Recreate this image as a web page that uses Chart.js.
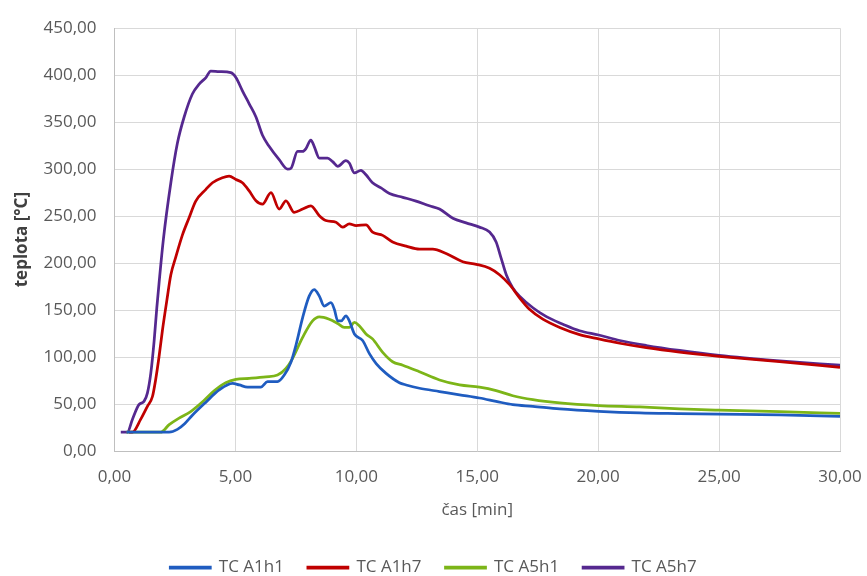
<!DOCTYPE html>
<html>
<head>
<meta charset="utf-8">
<script src="https://cdn.jsdelivr.net/npm/chart.js@4"></script>
<style>
  body { margin: 0; background: #fff; }
  canvas { display: block; }
</style>
</head>
<body>
<canvas id="chartTemp" width="867" height="576"></canvas>
<script>
// --- DATA ---
const seriesNames = ['TC A1h1', 'TC A1h7', 'TC A5h1', 'TC A5h7'];
const seriesColors = ['#1f5cc0', '#c00000', '#7cb518', '#55288f'];

// TC A1h1
const timeA1h1 = [0.5, 2.26, 2.6, 2.9, 3.22, 3.78, 4.33, 4.88, 5.16, 5.5, 6.05, 6.33, 6.74, 7.02, 7.3, 7.5, 7.78, 8.05, 8.26, 8.47, 8.67, 8.95, 9.09, 9.23, 9.37, 9.57, 9.71, 9.92, 10.26, 10.54, 10.82, 11.23, 11.78, 12.06, 12.61, 13.44, 14.27, 15.09, 15.78, 16.47, 17.3, 18.41, 20.02, 21.72, 23.37, 25, 27.5, 30];
const tempA1h1 = [20, 20, 23, 29, 38, 52, 65, 72, 70.3, 68, 68, 73.8, 73.8, 80.8, 94.8, 112.3, 142, 164.8, 171.8, 164.8, 154.3, 157.8, 150.8, 138.5, 138.5, 143.8, 138.5, 124.6, 117.6, 103.6, 93.1, 82.6, 72.7, 70.3, 66.8, 63.3, 59.8, 56.4, 52.8, 49.3, 47.5, 44.8, 42.3, 40.6, 39.9, 39.3, 38.5, 36.8];

// TC A1h7
const timeA1h7 = [0.6, 0.74, 1.08, 1.36, 1.57, 1.7, 1.84, 1.98, 2.16, 2.33, 2.53, 2.81, 3.08, 3.36, 3.78, 4.05, 4.46, 4.74, 5.02, 5.29, 5.57, 5.85, 6.12, 6.47, 6.81, 7.09, 7.43, 7.78, 8.12, 8.47, 8.74, 9.16, 9.43, 9.71, 9.99, 10.4, 10.67, 11.09, 11.5, 12.06, 12.61, 13.16, 13.71, 14.4, 14.96, 15.51, 15.92, 16.34, 16.75, 17.16, 17.71, 18.41, 19.23, 20.02, 20.89, 21.99, 23.37, 25, 27.5, 30];
const tempA1h7 = [20, 20, 33.6, 47.5, 58, 75.6, 100, 128, 159.5, 187.6, 206, 230, 248, 266, 278.5, 285.5, 290.8, 292.5, 289, 285.5, 276.8, 266.3, 262.7, 275, 257.5, 266.3, 254, 257.5, 261, 250.5, 245.3, 243.5, 238.3, 241.7, 240, 240.7, 233, 229.5, 222.5, 218, 214.8, 214.8, 210.2, 201.5, 198.7, 194.5, 187.6, 177, 163, 150.8, 140.3, 131.5, 123.9, 119.3, 114.7, 110, 105.3, 100.8, 95, 89];

// TC A5h1
const timeA5h1 = [0.5, 1.91, 2.26, 2.67, 3.15, 3.71, 4.12, 4.6, 5.02, 5.57, 6.26, 6.74, 7.09, 7.36, 7.78, 8.19, 8.47, 8.88, 9.23, 9.5, 9.71, 9.92, 10.12, 10.4, 10.67, 11.09, 11.5, 11.92, 12.61, 13.44, 14.27, 15.09, 15.78, 16.47, 17.3, 18.41, 20.02, 21.72, 23.37, 25, 27.5, 30];
const tempA5h1 = [20, 20, 28, 35, 42, 54, 64, 72.7, 76.3, 77.4, 79, 80.8, 87.9, 98.4, 121, 138.5, 142.8, 140.3, 135.7, 131.5, 131.5, 136.8, 133.3, 124.6, 119.3, 105, 95, 91.3, 84.3, 75.6, 70.3, 67.9, 64.3, 58.8, 54.6, 51.1, 48.3, 46.9, 44.8, 43.5, 42, 40];

// TC A5h7
const timeA5h7 = [0.26, 0.53, 0.74, 1.01, 1.22, 1.36, 1.5, 1.64, 1.75, 1.84, 2.02, 2.33, 2.6, 2.88, 3.22, 3.5, 3.78, 3.98, 4.33, 4.81, 5.02, 5.29, 5.57, 5.85, 6.12, 6.4, 6.81, 7.16, 7.3, 7.57, 7.78, 7.92, 8.12, 8.26, 8.47, 8.81, 9.02, 9.23, 9.57, 9.71, 9.92, 10.19, 10.4, 10.67, 11.02, 11.37, 11.92, 12.47, 13.02, 13.44, 13.99, 14.54, 15.09, 15.51, 15.78, 15.99, 16.2, 16.47, 16.75, 17.3, 17.86, 18.54, 19.23, 20.02, 20.89, 21.99, 23.37, 25, 27.5, 30];
const tempA5h7 = [20, 20, 33.6, 49.3, 52.8, 61.6, 82.6, 117.6, 152.5, 178, 225, 285.5, 327.5, 355.5, 380, 390.5, 397.5, 404.4, 403.8, 402.7, 397.5, 383.4, 369.5, 355.5, 336, 324, 310, 300, 301, 318.8, 318.8, 322, 331, 324, 311.7, 311.7, 308, 303, 309, 306.5, 296, 298.8, 294, 285.5, 280, 274, 270, 266, 261, 257.5, 247.7, 242.8, 238.3, 233, 222.5, 205, 187.6, 173.5, 164.8, 152.5, 143, 135, 128, 123.5, 117.6, 112.3, 107, 101.8, 96, 91.3];

// axis ticks
const xTicks = [0, 5, 10, 15, 20, 25, 30];
const yTicks = [0, 50, 100, 150, 200, 250, 300, 350, 400, 450];

// --- HELPERS ---
const fmt = (v) => Number(v).toFixed(2).replace('.', ',');
const toPoints = (ts, vs) => ts.map((t, i) => ({x: t, y: vs[i]}));

const allTimes = [timeA1h1, timeA1h7, timeA5h1, timeA5h7];
const allTemps = [tempA1h1, tempA1h7, tempA5h1, tempA5h7];

const TEXT = '#595959';
const FONT = "'Open Sans', 'Liberation Sans', sans-serif";

// --- CHART ---
const ctx = document.getElementById('chartTemp').getContext('2d');
new Chart(ctx, {
    type: 'line',
    data: {
        datasets: seriesNames.map((name, i) => ({
            label: name,
            data: toPoints(allTimes[i], allTemps[i]),
            borderColor: seriesColors[i],
            backgroundColor: seriesColors[i],
            borderWidth: 2.75,
            pointRadius: 0,
            cubicInterpolationMode: 'monotone'
        }))
    },
    options: {
        responsive: false,
        animation: false,
        layout: { padding: { top: 23, right: 0, bottom: -10, left: 0 } },
        plugins: {
            tooltip: { enabled: false },
            legend: {
                position: 'bottom',
                labels: {
                    boxWidth: 40, boxHeight: 1, padding: 24,
                    color: TEXT, font: { family: FONT, size: 17 }
                }
            }
        },
        scales: {
            x: {
                type: 'linear', min: 0, max: 30,
                afterBuildTicks: (s) => { s.ticks = xTicks.map(v => ({value: v})); },
                afterFit: (s) => { s.height = 84; s.paddingLeft = 0; s.paddingRight = 27; },
                grid: { color: '#d9d9d9', drawTicks: false },
                border: { color: '#bfbfbf' },
                ticks: { padding: 16, color: TEXT, font: { family: FONT, size: 17 }, callback: fmt, maxRotation: 0 },
                title: { display: true, text: 'čas [min]', color: TEXT, font: { family: FONT, size: 17 }, padding: { bottom: 15 } }
            },
            y: {
                min: 0, max: 450,
                afterBuildTicks: (s) => { s.ticks = yTicks.map(v => ({value: v})); },
                afterFit: (s) => { s.width = 114.5; },
                grid: { color: '#d9d9d9', drawTicks: false },
                border: { color: '#bfbfbf' },
                ticks: { padding: 18, color: TEXT, font: { family: FONT, size: 17 }, callback: fmt },
                title: { display: true, text: 'teplota [°C]', color: '#404040', font: { family: FONT, size: 17, weight: 'bold' }, padding: { top: 12 } }
            }
        }
    }
});
</script>
</body>
</html>
